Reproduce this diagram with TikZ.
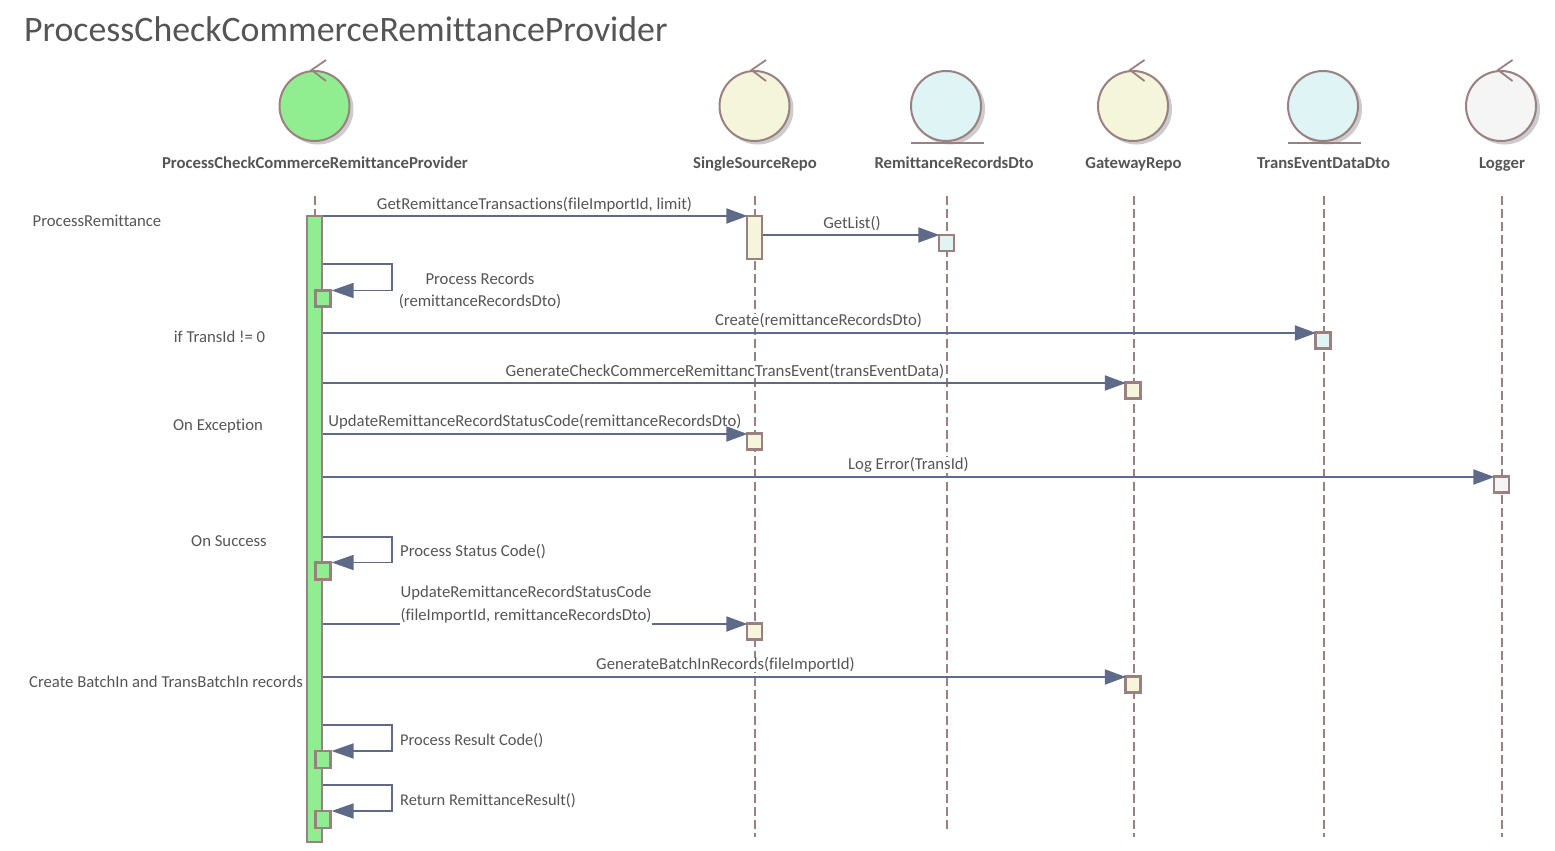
\documentclass[tikz,border=0pt]{standalone}
\usepackage{fontspec}
\setmainfont{Carlito}[Ligatures=NoCommon]
\usetikzlibrary{arrows.meta}
\definecolor{edgec}{HTML}{9A8080}
\definecolor{msgc}{HTML}{5E6A88}
\definecolor{textc}{HTML}{555555}
\definecolor{shadowc}{HTML}{CCCCCC}
\definecolor{greenc}{HTML}{90EE90}
\definecolor{creamc}{HTML}{F5F5DC}
\definecolor{bluec}{HTML}{DFF5F5}
\definecolor{greyc}{HTML}{F5F5F5}
\tikzset{
 figure/.style={circle,draw=edgec,line width=2pt,minimum size=70pt,inner sep=0pt},
 shade/.style={circle,fill=shadowc,minimum size=71pt,inner sep=0pt},
 nameLabel/.style={font=\fontsize{16.7}{18}\selectfont\bfseries,text=textc,inner sep=0pt,anchor=base},
 lbl/.style={font=\fontsize{16.7}{18}\selectfont,text=textc,inner sep=0pt,align=center,fill=white,yshift=-1pt},
 notelbl/.style={font=\fontsize{16.7}{18}\selectfont,text=textc,inner sep=0pt,align=center},
 life/.style={draw=edgec,line width=1.9pt,dash pattern=on 9pt off 4pt},
 actbox/.style={draw=edgec,line width=2.2pt,rectangle,inner sep=0pt,minimum width=15pt},
 msg/.style={draw=msgc,line width=1.8pt,shorten >=-1.5pt,-{Triangle[length=21pt,width=15pt,fill=msgc]}},
 selfmsg/.style={draw=msgc,line width=1.8pt,-{Triangle[length=22pt,width=15pt,fill=msgc]}},
 ctl/.style={draw=edgec,line width=1.8pt},
 plainmsg/.style={draw=msgc,line width=1.8pt}
}
\begin{document}
\begin{tikzpicture}[x=1pt,y=-1pt]
\useasboundingbox (0,0) rectangle (1555,851);
\node[anchor=west,inner sep=0pt,text=textc,font=\fontsize{35.8}{40}\selectfont] (title) at (24,29) {ProcessCheckCommerceRemittanceProvider};

% shadows
\foreach \x in {315,755,946.5,1133.5,1323.5,1501.5}
  \node[shade] at (\x+3,109) {};

% figures
\node[figure,fill=greenc] (p) at (314.5,106) {};
\node[figure,fill=creamc] (s) at (754.5,106) {};
\node[figure,fill=bluec] (r) at (946,106) {};
\node[figure,fill=creamc] (g) at (1133,106) {};
\node[figure,fill=bluec] (t) at (1323,106) {};
\node[figure,fill=greyc] (l) at (1501,106) {};

% control marks
\foreach \n/\x in {p/314.5,s/754.5,g/1133,l/1501}{
  \draw[ctl] (\x+11.5,60) -- (\n.north -| \x-3,0) -- (\x+11.5,81);
}
% entity bars
\coordinate (rb1) at (911,143); \coordinate (rb2) at (984,143);
\coordinate (tb1) at (1288,143); \coordinate (tb2) at (1361,143);
\draw[edgec,line width=1.8pt] (rb1) -- (rb2);
\draw[edgec,line width=1.8pt] (tb1) -- (tb2);

% names
\node[nameLabel] (pn) at (315,168) {ProcessCheckCommerceRemittanceProvider};
\node[nameLabel] (sn) at (755,168) {SingleSourceRepo};
\node[nameLabel] (rn) at (954,168) {RemittanceRecordsDto};
\node[nameLabel] (gn) at (1133.5,168) {GatewayRepo};
\node[nameLabel] (tn) at (1323.5,168) {TransEventDataDto};
\node[nameLabel] (ln) at (1502,168) {Logger};

% lifelines
\coordinate (pl1) at (315,196); \coordinate (pl2) at (315,216);
\coordinate (sl1) at (755,196); \coordinate (sl2) at (755,837);
\coordinate (rl1) at (947,196); \coordinate (rl2) at (947,831);
\coordinate (gl1) at (1134,196); \coordinate (gl2) at (1134,837);
\coordinate (tl1) at (1324,196); \coordinate (tl2) at (1324,837);
\coordinate (ll1) at (1502,196); \coordinate (ll2) at (1502,837);
\foreach \a/\b in {pl1/pl2,sl1/sl2,rl1/rl2,gl1/gl2,tl1/tl2,ll1/ll2}
  \draw[life] (\a) -- (\b);

% activations
\node[actbox,fill=greenc,minimum height=626pt] (mainA) at (314.5,529) {};
\node[actbox,fill=creamc,minimum height=43pt] (s1) at (754.5,237.5) {};
\node[actbox,fill=bluec,minimum height=16pt] (r1) at (946.5,243) {};
\node[actbox,fill=bluec,minimum height=16pt] (t1) at (1323,340.5) {};
\node[actbox,fill=creamc,minimum height=16pt] (g1) at (1133,390.5) {};
\node[actbox,fill=creamc,minimum height=16pt] (s2) at (754.5,441.5) {};
\node[actbox,fill=greyc,minimum height=16pt] (l1) at (1501.5,484.5) {};
\node[actbox,fill=creamc,minimum height=16pt] (s3) at (754.5,631.5) {};
\node[actbox,fill=creamc,minimum height=16pt] (g2) at (1133,684.5) {};
\node[actbox,fill=greenc,minimum height=16pt] (n1) at (323,298.5) {};
\node[actbox,fill=greenc,minimum height=17pt] (n2) at (323,571) {};
\node[actbox,fill=greenc,minimum height=17pt] (n3) at (323,759.5) {};
\node[actbox,fill=greenc,minimum height=17pt] (n4) at (323,819.5) {};

% message labels (white behind the text, above the lifelines)
\node[lbl] (upd) at (526,603.5) {UpdateRemittanceRecordStatusCode\\[5pt](fileImportId, remittanceRecordsDto)};
\node[lbl] (a1) at (534.5,204) {GetRemittanceTransactions(fileImportId, limit)};
\node[lbl] (a2) at (852,223) {GetList()};
\node[lbl] (a3) at (480,290) {Process Records\\[4pt](remittanceRecordsDto)};
\node[lbl] (a4) at (818.5,320) {Create(remittanceRecordsDto)};
\node[lbl,font=\fontsize{16.9}{18}\selectfont] (a5) at (725,370) {GenerateCheckCommerceRemittancTransEvent(transEventData)};
\node[lbl] (a6) at (535,421) {UpdateRemittanceRecordStatusCode(remittanceRecordsDto)};
\node[lbl] (a7) at (908.5,464) {Log Error(TransId)};
\node[lbl,anchor=west] (a8) at (400,551) {Process Status Code()};
\node[lbl] (a9) at (725.5,664) {GenerateBatchInRecords(fileImportId)};
\node[lbl,anchor=west,font=\fontsize{16.4}{18}\selectfont] (a10) at (400,740) {Process Result Code()};
\node[lbl,anchor=west,font=\fontsize{16.4}{18}\selectfont] (a11) at (400,800) {Return RemittanceResult()};

% messages
\draw[msg] (mainA.east |- 0,216) -- (s1.west |- 0,216);
\draw[msg] (s1.east |- 0,235) -- (r1.west |- 0,235);
\draw[msg] (mainA.east |- 0,333) -- (t1.west |- 0,333);
\draw[msg] (mainA.east |- 0,383) -- (g1.west |- 0,383);
\draw[msg] (mainA.east |- 0,434) -- (s2.west |- 0,434);
\draw[msg] (mainA.east |- 0,477) -- (l1.west |- 0,477);
\draw[msg] (mainA.east |- 0,677) -- (g2.west |- 0,677);

% self messages
\draw[selfmsg] (mainA.east |- 0,264) -- (392,264) -- (392,290.5) -- (n1.east |- 0,290.5);
\draw[selfmsg] (mainA.east |- 0,537) -- (392,537) -- (392,562.5) -- (n2.east |- 0,562.5);
\draw[selfmsg] (mainA.east |- 0,725) -- (392,725) -- (392,751) -- (n3.east |- 0,751);
\draw[selfmsg] (mainA.east |- 0,785) -- (392,785) -- (392,811) -- (n4.east |- 0,811);

% broken message
\draw[plainmsg] (mainA.east |- 0,624) -- (upd.west |- 0,624);
\draw[msg] (upd.east |- 0,624) -- (s3.west |- 0,624);

% notes
\node[notelbl] (b1) at (97,221) {ProcessRemittance};
\node[notelbl] (b2) at (219.5,337) {if TransId != 0};
\node[notelbl] (b3) at (218,426) {On Exception};
\node[notelbl] (b4) at (229,541) {On Success};
\node[notelbl] (b5) at (166,682) {Create BatchIn and TransBatchIn records};
\end{tikzpicture}
\end{document}
